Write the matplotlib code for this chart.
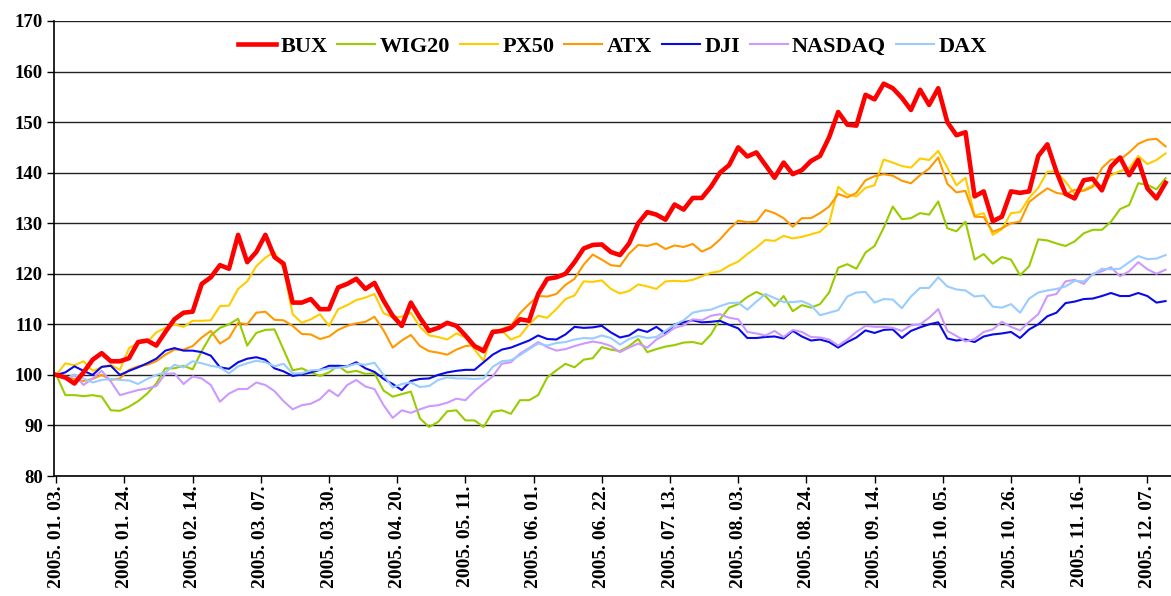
import numpy as np
import matplotlib
matplotlib.use("Agg")
import matplotlib.pyplot as plt

# trading-day index of each sample (every second trading day of 2005)
day = np.arange(0, 246, 2)

bux = [100.0, 99.5, 98.3, 100.5, 103.0, 104.3, 102.7, 102.7, 103.3, 106.5,
       106.8, 105.8, 108.5, 111.0, 112.3, 112.5, 118.0, 119.3, 121.7, 121.0,
       127.7, 122.3, 124.3, 127.7, 123.3, 122.0, 114.3, 114.3, 115.0, 113.0,
       113.0, 117.3, 118.0, 119.0, 117.0, 118.2, 114.7, 111.7, 109.7, 114.3,
       111.3, 108.7, 109.3, 110.3, 109.7, 107.8, 105.7, 104.7, 108.5, 108.7,
       109.3, 111.0, 110.7, 116.0, 119.0, 119.3, 120.0, 122.3, 125.0, 125.7,
       125.8, 124.3, 123.7, 126.0, 130.0, 132.2, 131.7, 130.7, 133.7, 132.7,
       135.0, 135.0, 137.2, 140.0, 141.5, 145.0, 143.2, 144.0, 141.5, 139.0,
       142.0, 139.7, 140.5, 142.3, 143.3, 147.0, 152.0, 149.5, 149.3, 155.4,
       154.5, 157.6, 156.7, 154.8, 152.4, 156.4, 153.4, 156.7, 150.0, 147.4,
       148.0, 135.3, 136.3, 130.4, 131.3, 136.3, 136.0, 136.3, 143.3, 145.6,
       140.2, 135.8, 134.9, 138.5, 138.8, 136.5, 141.2, 143.0, 139.5, 142.5,
       136.9, 134.9, 138.0]

wig20 = [100.0, 96.0, 96.0, 95.8, 96.0, 95.7, 93.0, 92.9, 93.7, 94.8,
         96.3, 98.3, 101.3, 101.3, 101.8, 101.1, 104.7, 107.8, 109.3, 110.0,
         111.1, 105.8, 108.3, 108.9, 109.0, 105.0, 100.9, 101.3, 100.5, 99.8,
         100.5, 101.8, 100.5, 100.8, 100.2, 100.3, 96.9, 95.7, 96.2, 96.7,
         91.4, 89.7, 90.7, 92.8, 93.0, 91.0, 91.0, 89.7, 92.7, 93.0,
         92.3, 95.0, 95.0, 96.0, 99.5, 100.9, 102.2, 101.5, 103.0, 103.3,
         105.5, 105.0, 104.7, 105.7, 107.1, 104.5, 105.1, 105.6, 105.9, 106.4,
         106.5, 106.1, 108.0, 111.0, 113.3, 114.0, 115.4, 116.4, 115.6, 113.6,
         115.6, 112.6, 113.8, 113.3, 114.0, 116.3, 121.2, 121.9, 121.0, 124.2,
         125.5, 129.1, 133.3, 130.8, 131.0, 132.0, 131.7, 134.3, 129.0, 128.4,
         130.3, 122.8, 123.9, 122.0, 123.3, 122.8, 119.7, 121.5, 126.8, 126.6,
         126.0, 125.5, 126.4, 128.0, 128.7, 128.7, 130.3, 132.8, 133.6, 137.9,
         137.6, 136.7, 138.9]

px50 = [100.0, 102.3, 101.9, 102.7, 100.8, 101.5, 102.0, 101.0, 105.3, 106.3,
        106.5, 108.4, 109.3, 110.0, 109.5, 110.7, 110.7, 110.8, 113.6, 113.7,
        117.0, 118.5, 121.5, 123.2, 124.3, 121.0, 112.0, 110.3, 111.0, 112.0,
        109.7, 113.0, 113.8, 114.8, 115.3, 116.0, 112.2, 111.4, 111.5, 112.3,
        109.5, 107.8, 107.5, 107.0, 108.2, 107.4, 105.0, 102.8, 108.8, 108.8,
        107.0, 107.7, 110.0, 111.7, 111.3, 113.0, 115.0, 115.7, 118.5, 118.4,
        118.7, 117.0, 116.1, 116.6, 117.9, 117.5, 117.0, 118.5, 118.6, 118.5,
        118.8, 119.5, 120.2, 120.5, 121.6, 122.4, 123.9, 125.2, 126.7, 126.5,
        127.5, 127.0, 127.3, 127.8, 128.3, 130.0, 137.2, 135.7, 135.3, 137.0,
        137.5, 142.6, 142.0, 141.3, 141.0, 142.8, 142.5, 144.3, 141.0, 137.5,
        139.0, 131.5, 132.0, 127.7, 128.8, 132.0, 132.2, 135.0, 137.0, 140.2,
        140.2, 138.2, 135.8, 136.6, 137.5, 137.4, 139.5, 140.3, 140.9, 143.3,
        141.7, 142.5, 143.8]

atx = [100.0, 99.7, 99.2, 98.8, 99.2, 100.0, 99.0, 99.3, 101.0, 101.7,
       102.0, 102.7, 104.0, 105.0, 105.0, 105.7, 107.4, 108.7, 106.2, 107.3,
       110.3, 110.0, 112.3, 112.5, 110.9, 110.8, 109.7, 108.1, 108.0, 107.1,
       107.6, 108.9, 109.7, 110.2, 110.5, 111.5, 108.8, 105.4, 106.8, 107.9,
       105.7, 104.7, 104.4, 104.0, 105.0, 105.7, 105.9, 105.2, 108.3, 109.1,
       109.7, 112.2, 114.0, 115.6, 115.5, 116.0, 117.8, 119.0, 121.8, 123.8,
       122.8, 121.7, 121.5, 124.0, 125.7, 125.5, 126.0, 124.9, 125.6, 125.3,
       125.9, 124.4, 125.2, 126.8, 128.8, 130.5, 130.2, 130.3, 132.6, 132.0,
       131.0, 129.3, 131.0, 131.0, 132.0, 133.3, 135.8, 135.1, 136.0, 138.5,
       139.3, 139.7, 139.4, 138.4, 137.9, 139.5, 140.8, 143.0, 137.8, 136.1,
       136.4, 131.3, 131.2, 128.3, 129.0, 130.0, 130.3, 134.2, 135.6, 136.9,
       136.0, 135.7, 136.6, 136.4, 137.2, 140.9, 142.6, 142.6, 144.0, 145.7,
       146.5, 146.7, 145.2]

dji = [100.0, 100.5, 101.7, 100.8, 100.0, 101.6, 101.8, 100.0, 100.8, 101.5,
       102.3, 103.2, 104.8, 105.3, 104.8, 104.8, 104.5, 103.8, 101.5, 101.2,
       102.5, 103.2, 103.5, 103.0, 101.3, 100.7, 99.8, 100.1, 100.5, 101.0,
       101.8, 101.8, 101.7, 102.5, 101.3, 100.6, 99.2, 98.2, 97.0, 98.8,
       99.2, 99.3, 100.0, 100.5, 100.8, 101.0, 101.0, 102.5, 104.0, 105.0,
       105.4, 106.1, 106.8, 107.8, 107.1, 107.0, 108.0, 109.5, 109.3, 109.4,
       109.7, 108.4, 107.4, 107.8, 109.0, 108.5, 109.5, 108.2, 110.0, 110.4,
       110.8, 110.4, 110.5, 110.7, 109.9, 109.2, 107.3, 107.3, 107.5, 107.6,
       107.2, 108.7, 107.6, 106.8, 107.0, 106.5, 105.4, 106.5, 107.4, 108.8,
       108.3, 108.9, 109.0, 107.3, 108.7, 109.4, 110.0, 110.4, 107.2, 106.8,
       107.0, 106.5, 107.6, 108.0, 108.2, 108.5, 107.3, 109.0, 110.0, 111.6,
       112.3, 114.2, 114.5, 115.0, 115.1, 115.6, 116.2, 115.6, 115.6, 116.2,
       115.6, 114.3, 114.6]

nasdaq = [100.0, 99.2, 100.0, 98.0, 99.3, 100.8, 98.7, 96.0, 96.5, 97.0,
          97.3, 97.8, 100.2, 100.3, 98.2, 99.7, 99.3, 98.0, 94.7, 96.3,
          97.2, 97.2, 98.5, 98.0, 96.8, 94.8, 93.2, 94.0, 94.3, 95.2,
          97.0, 95.8, 98.0, 99.0, 97.7, 97.2, 94.0, 91.5, 93.0, 92.5,
          93.2, 93.8, 94.0, 94.5, 95.3, 95.0, 96.8, 98.3, 99.7, 102.2,
          102.5, 104.2, 105.3, 106.5, 105.5, 104.8, 105.1, 105.7, 106.2, 106.6,
          106.3, 105.7, 104.5, 105.4, 106.2, 105.4, 107.0, 108.0, 109.3, 109.8,
          111.0, 110.8, 111.7, 112.0, 111.3, 111.0, 108.5, 108.2, 107.8, 108.7,
          107.5, 108.9, 108.5, 107.5, 107.4, 107.0, 105.8, 107.0, 108.5, 109.7,
          109.5, 109.5, 109.3, 108.7, 109.8, 110.0, 111.3, 113.0, 108.7, 107.7,
          106.6, 107.1, 108.5, 109.0, 110.5, 109.5, 108.8, 110.5, 112.0, 115.6,
          116.0, 118.5, 118.8, 118.0, 120.0, 120.5, 121.3, 119.5, 120.5, 122.3,
          120.9, 120.0, 120.8]

dax = [100.0, 99.2, 100.1, 99.3, 98.5, 99.0, 99.2, 99.0, 98.9, 98.2,
       99.2, 100.0, 100.5, 102.0, 101.5, 102.7, 102.3, 101.8, 101.5, 100.3,
       101.7, 102.3, 102.8, 102.5, 101.7, 102.2, 100.3, 100.3, 100.9, 101.0,
       101.3, 101.4, 101.7, 102.2, 102.0, 102.4, 100.0, 97.5, 98.2, 98.5,
       97.6, 97.8, 99.0, 99.5, 99.3, 99.3, 99.2, 99.3, 101.6, 102.7,
       102.9, 103.9, 105.1, 106.2, 105.8, 106.3, 106.5, 107.0, 107.3, 107.2,
       107.8, 107.3, 106.0, 107.1, 107.7, 107.3, 107.5, 108.7, 109.9, 110.8,
       112.3, 112.7, 112.9, 113.6, 114.2, 114.3, 112.9, 114.5, 116.0, 115.2,
       114.4, 114.4, 114.6, 113.8, 111.8, 112.3, 112.8, 115.5, 116.3, 116.4,
       114.3, 115.0, 114.9, 113.2, 115.5, 117.2, 117.2, 119.3, 117.5, 116.9,
       116.7, 115.5, 115.7, 113.5, 113.3, 114.0, 112.3, 115.1, 116.3, 116.7,
       117.0, 117.5, 118.6, 118.5, 119.8, 121.0, 120.9, 121.0, 122.3, 123.5,
       122.9, 123.0, 123.7]

tick_pos = list(range(0, 241, 15))
tick_labels = ["2005. 01. 03.", "2005. 01. 24.", "2005. 02. 14.", "2005. 03. 07.",
               "2005. 03. 30.", "2005. 04. 20.", "2005. 05. 11.", "2005. 06. 01.",
               "2005. 06. 22.", "2005. 07. 13.", "2005. 08. 03.", "2005. 08. 24.",
               "2005. 09. 14.", "2005. 10. 05.", "2005. 10. 26.", "2005. 11. 16.",
               "2005. 12. 07."]

plt.rcParams['font.family'] = ['Liberation Serif', 'DejaVu Serif']
plt.rcParams['font.weight'] = 'bold'

fig = plt.figure(figsize=(11.71, 5.96), dpi=100)
ax = fig.add_axes([0.0461, 0.2013, 0.9539, 0.7635])

series = [
    ("WIG20", wig20, "#99CC00", 1.5),
    ("PX50", px50, "#FFCC00", 1.5),
    ("ATX", atx, "#FF9900", 1.5),
    ("DJI", dji, "#0A0AE6", 1.5),
    ("NASDAQ", nasdaq, "#CC99FF", 1.5),
    ("DAX", dax, "#99CCFF", 1.5),
]
handles = {}
for name, vals, col, lw in series:
    handles[name], = ax.plot(day, vals, color=col, lw=lw, label=name)
handles["BUX"], = ax.plot(day, bux, color="#FF0000", lw=3.3, label="BUX",
                          solid_joinstyle="round")

ax.set_xlim(-0.5, 245.2)
ax.set_ylim(80, 170)
ax.set_yticks(range(80, 171, 10))
ax.yaxis.grid(True, color="#222222", lw=1.0)
ax.set_axisbelow(True)
ax.set_xticks(tick_pos)
ax.set_xticklabels(tick_labels, rotation=90, fontsize=14, fontweight="bold")
ax.tick_params(axis="y", labelsize=13.5, length=5, width=1, pad=3)
ax.tick_params(axis="x", length=5, width=1, pad=2)
for s in ["top", "right"]:
    ax.spines[s].set_visible(False)
for s in ["left", "bottom"]:
    ax.spines[s].set_linewidth(1.2)

order = ["BUX", "WIG20", "PX50", "ATX", "DJI", "NASDAQ", "DAX"]
leg = ax.legend([handles[n] for n in order], order, loc="upper center",
                bbox_to_anchor=(0.5, 0.985), ncol=7, frameon=False,
                fontsize=16, handlelength=1.7, handletextpad=0.2,
                columnspacing=0.45, borderaxespad=0)

fig.savefig("out.png", dpi=100)
